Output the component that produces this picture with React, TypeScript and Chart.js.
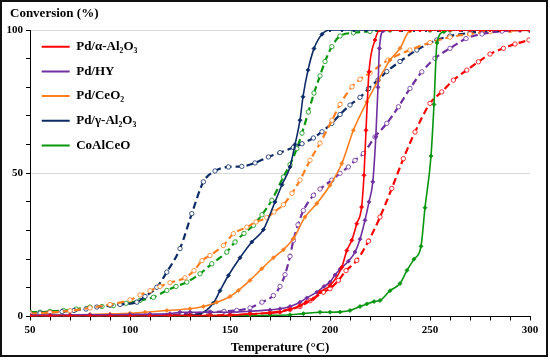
import { useEffect, useRef } from 'react';
import { Chart, registerables } from 'chart.js';
Chart.register(...registerables);

const FONT = '"Liberation Serif", "Times New Roman", serif';

const legendLabels = ['Pd/α-Al₂O₃', 'Pd/HY', 'Pd/CeO₂', 'Pd/γ-Al₂O₃', 'CoAlCeO'];
const seriesColors = ['#FF0000', '#7030A0', '#FF7F1E', '#0C2B67', '#08960F'];
const yAxisCaption = 'Conversion (%)';
const xAxisCaption = 'Temperature (°C)';

// Pd/α-Al2O3
const alphaSolidT = [50, 60, 70, 80, 90, 100, 110, 120, 130, 140, 150, 160, 170, 175, 180, 185, 188, 191.7, 195, 200, 205.9, 208.4, 210.9, 213.4, 215.8, 217, 218, 219.5, 222.5, 225, 230, 235, 240, 245, 250, 255, 260, 265, 270, 275, 280, 285, 290, 295, 300];
const alphaSolidC = [0.2, 0.2, 0.2, 0.2, 0.2, 0.2, 0.2, 0.3, 0.3, 0.3, 0.4, 0.9, 1.2, 1.5, 2.5, 3.8, 5.0, 6.2, 8.5, 10.8, 17.2, 23, 26.6, 32.4, 38.2, 49.3, 65, 85.4, 96.5, 100, 100, 100, 100, 100, 100, 100, 100, 100, 100, 100, 100, 100, 100, 100, 100];
const alphaDashedT = [50, 60, 70, 80, 90, 100, 110, 120, 130, 140, 150, 160, 170, 180, 185, 190, 196.7, 200, 204.2, 208, 213.4, 219.2, 225, 230.9, 236.7, 242.5, 250, 255.9, 261.7, 268.4, 274.2, 280, 286.7, 292.5, 299.5];
const alphaDashedC = [0.2, 0.2, 0.2, 0.2, 0.2, 0.3, 0.3, 0.3, 0.4, 0.4, 0.5, 0.8, 1.3, 2.5, 3.5, 5.5, 8.5, 9.7, 12.6, 16, 19.6, 26.3, 34.7, 44.7, 55.1, 64.4, 74.4, 78.4, 82.5, 86, 88.9, 91.6, 93.6, 95.1, 96.5];

// Pd/HY
const hySolidT = [50, 60, 70, 80, 90, 100, 110, 120, 125, 130, 140, 150, 160, 170, 175, 180, 185, 188.4, 193.4, 197, 200, 202.5, 205, 209.2, 212.5, 215, 217.5, 219.5, 221.4, 222.9, 224, 224.7, 226.7, 230, 235, 240, 245, 250, 255, 260, 265, 270, 275, 280, 285, 290, 295, 300];
const hySolidC = [0.5, 0.5, 0.5, 0.6, 0.6, 0.7, 0.8, 1.0, 1.5, 1.5, 1.5, 1.5, 1.8, 2.3, 2.7, 3.5, 5.0, 6.5, 8.5, 10.5, 12, 14.5, 16.5, 19.3, 22.5, 27, 33.6, 40, 47, 62.7, 80, 93.6, 99.7, 100, 100, 100, 100, 100, 100, 100, 100, 100, 100, 100, 100, 100, 100, 100];
const hyDashedT = [50, 60, 70, 80, 90, 100, 110, 120, 130, 140, 147, 153.4, 160, 166, 171.7, 175, 177.5, 180, 181.7, 184, 186.7, 191.7, 195, 200.9, 205, 209.2, 212.5, 216.7, 222.5, 228.4, 234.2, 240, 245.9, 252.5, 260, 268, 276, 286, 295, 300];
const hyDashedC = [0.2, 0.2, 0.2, 0.2, 0.3, 0.3, 0.4, 0.5, 1.0, 1.5, 1.8, 2.1, 3.0, 5.0, 7.3, 10.5, 14.6, 21, 26.6, 32, 37, 42.3, 44.5, 47.6, 50, 52.2, 54.5, 56.9, 62.7, 67.4, 73.2, 79.6, 85.4, 90.1, 93.6, 97, 98.6, 99.6, 100, 100];

// Pd/CeO2
const ceSolidT = [50, 60, 70, 80, 90, 100, 107.5, 118.4, 130, 136.7, 143.4, 150, 154.2, 160, 165.9, 171.7, 176.7, 181.7, 187.5, 193.4, 200, 205.9, 211.7, 218.4, 224.2, 230, 235, 240, 245, 250, 255, 260, 265, 270, 275, 280, 285, 290, 295, 300];
const ceSolidC = [0.5, 0.5, 0.6, 0.7, 0.9, 1.1, 1.5, 2.1, 2.7, 3.5, 5.0, 7.0, 9.1, 12.6, 16.7, 20.5, 23.3, 27.2, 34.7, 39.4, 45.8, 53.4, 65, 74.9, 82.5, 89.5, 93.6, 99.7, 100, 100, 100, 100, 100, 100, 100, 100, 100, 100, 100, 100];
const ceDashedT = [50, 60, 70, 80, 90, 100, 105, 110, 115, 120, 127.5, 132, 136, 140, 146.7, 151.7, 158.4, 163, 168.4, 172, 176.7, 181, 185, 190, 195, 201, 205, 211, 215, 220, 229, 240, 250, 260, 270, 280, 290, 300];
const ceDashedC = [1.0, 1.4, 2.0, 3.0, 4.2, 5.8, 7.5, 9.0, 10.5, 11.8, 13.5, 16, 19.5, 21.3, 24.8, 28.9, 31.2, 33, 34.5, 36.5, 39, 43, 47.6, 54.5, 60.5, 68.5, 74, 80.2, 82.8, 85, 89.5, 93, 95.6, 97.5, 98.6, 99.4, 99.8, 100];

// Pd/γ-Al2O3
const gammaSolidT = [50, 60, 70, 80, 90, 100, 110, 120, 130, 135, 141.7, 145, 149.2, 155, 160.9, 166.7, 172.5, 176, 180, 182.5, 185, 186.5, 189, 192, 196, 200, 206, 212, 218, 224, 230, 236, 242, 248, 254, 260, 266, 272, 278, 284, 290, 295, 300];
const gammaSolidC = [0.2, 0.2, 0.2, 0.2, 0.2, 0.2, 0.2, 0.3, 0.5, 0.9, 4.7, 9, 14.3, 20.5, 26, 30.3, 40, 46, 52.2, 60, 68.5, 76.7, 86, 93.5, 98.5, 100, 100, 100, 100, 100, 100, 100, 100, 100, 100, 100, 100, 100, 100, 100, 100, 100, 100];
const gammaDashedT = [50, 55, 60, 66, 72, 78, 83.4, 90, 95, 103.4, 107.5, 113.4, 118.4, 125, 130.9, 136.7, 142.5, 149.2, 155.9, 162.5, 169.2, 175, 181.7, 186, 191.7, 196, 200.9, 205, 210, 215, 219.2, 224, 228.4, 235, 243.4, 253.4, 260, 270, 280, 290, 300];
const gammaDashedC = [1.0, 1.2, 1.4, 1.7, 2.1, 2.6, 3.3, 3.9, 4.2, 5.0, 7.0, 10.2, 15.5, 23.7, 35.9, 47, 50.8, 52.2, 52.4, 53.6, 55.7, 57.2, 59.0, 60.3, 62.3, 64.5, 67.4, 70.5, 73.8, 76.5, 79.5, 82.5, 85.5, 89, 93, 96.5, 97.9, 99, 99.7, 100, 100];

// CoAlCeO
const coSolidT = [50, 60, 70, 80, 90, 100, 110, 120, 130, 140, 150, 160, 170, 180, 186.7, 195, 200, 205, 210, 215, 218.4, 222, 225, 230, 235, 238.5, 242, 245.5, 247.5, 250.5, 252, 253.5, 257, 260, 265, 270, 275, 280, 285, 290, 295, 300];
const coSolidC = [0.2, 0.2, 0.2, 0.2, 0.2, 0.2, 0.2, 0.2, 0.2, 0.3, 0.3, 0.3, 0.4, 0.6, 1.0, 1.5, 1.5, 1.6, 2.1, 3.5, 4.4, 5.2, 5.6, 9.0, 11.5, 16.1, 20, 24.5, 38, 56, 74, 95.5, 99.4, 100, 100, 100, 100, 100, 100, 100, 100, 100];
const coDashedT = [50, 55, 60, 66.7, 73, 80, 86, 91.7, 98, 105, 111.7, 118.4, 123, 128.4, 135, 140.9, 148.4, 152.5, 157, 161.7, 166, 170.9, 176.7, 180, 183.4, 186, 189.2, 192, 195, 197.5, 200.9, 205, 211.7, 220, 230, 240, 250, 260, 270, 280, 290, 300];
const coDashedC = [1.5, 1.5, 1.8, 2.1, 2.6, 3.3, 3.5, 3.8, 4.6, 5.6, 6.7, 9.1, 10.5, 12.0, 14.9, 18.4, 22.5, 26.0, 29, 31.8, 35.5, 40.6, 48.7, 53, 58.6, 64, 71.4, 78, 84, 89, 94.2, 97.9, 99, 99.5, 100, 100, 100, 100, 100, 100, 100, 100];

const solidSeries = [
  [alphaSolidT, alphaSolidC],
  [hySolidT, hySolidC],
  [ceSolidT, ceSolidC],
  [gammaSolidT, gammaSolidC],
  [coSolidT, coSolidC],
];
const dashedSeries = [
  [alphaDashedT, alphaDashedC],
  [hyDashedT, hyDashedC],
  [ceDashedT, ceDashedC],
  [gammaDashedT, gammaDashedC],
  [coDashedT, coDashedC],
];

const xTickLabelsEvery = 50;
const yTickLabelsEvery = 50;

function zip(xs: number[], ys: number[]) {
  return xs.map((x, i) => ({ x, y: ys[i] }));
}

const captionPlugin = {
  id: 'yCaption',
  afterDraw(chart: any) {
    const ctx = chart.ctx;
    ctx.save();
    ctx.font = `bold 13px ${FONT}`;
    ctx.fillStyle = '#000';
    ctx.textAlign = 'left';
    ctx.textBaseline = 'middle';
    ctx.fillText(yAxisCaption, 10, 14);
    ctx.restore();
  },
};

export default function App() {
  const ref = useRef<HTMLCanvasElement | null>(null);

  useEffect(() => {
    if (!ref.current) return;
    const datasets: any[] = [];
    solidSeries.forEach(([t, c], i) => {
      datasets.push({
        label: legendLabels[i],
        data: zip(t, c),
        borderColor: seriesColors[i],
        backgroundColor: seriesColors[i],
        borderWidth: 1.6,
        pointStyle: 'rectRot',
        pointRadius: 2,
        pointBackgroundColor: seriesColors[i],
        pointBorderColor: seriesColors[i],
        pointBorderWidth: 0.8,
        cubicInterpolationMode: 'monotone',
        fill: false,
      });
    });
    dashedSeries.forEach(([t, c], i) => {
      datasets.push({
        label: legendLabels[i] + ' ',
        data: zip(t, c),
        borderColor: seriesColors[i],
        backgroundColor: '#ffffff',
        borderWidth: 2.2,
        borderDash: [7, 4],
        pointStyle: 'circle',
        pointRadius: 2.2,
        pointBackgroundColor: '#ffffff',
        pointBorderColor: seriesColors[i],
        pointBorderWidth: 0.8,
        cubicInterpolationMode: 'monotone',
        fill: false,
      });
    });

    const chart = new Chart(ref.current, {
      type: 'line',
      data: { datasets },
      plugins: [captionPlugin],
      options: {
        responsive: false,
        animation: false,
        layout: { padding: { left: 0, right: 20, top: 30, bottom: 0 } },
        plugins: {
          title: { display: false },
          legend: {
            position: 'chartArea',
            align: 'start',
            title: {
              display: true,
              text: ' ',
              font: { family: FONT, size: 10 },
              padding: { top: 16.5, bottom: 0 },
            },
            labels: {
              boxWidth: 28,
              boxHeight: 2,
              padding: 11.7,
              color: '#000',
              font: { family: FONT, size: 13, weight: 'bold' },
              generateLabels: () =>
                legendLabels.map((text, i) => ({
                  text,
                  fillStyle: seriesColors[i],
                  strokeStyle: seriesColors[i],
                  lineWidth: 0,
                  hidden: false,
                  datasetIndex: i,
                  fontColor: '#000',
                })),
            },
          },
          tooltip: { enabled: false },
        },
        scales: {
          x: {
            type: 'linear',
            min: 50,
            max: 300,
            afterFit: (s: any) => {
              s.height = 45.5;
            },
            ticks: {
              stepSize: 10,
              autoSkip: false,
              maxRotation: 0,
              padding: 3,
              color: '#000',
              font: { family: FONT, size: 11, weight: 'bold' },
              callback: (v: any) => (Number(v) % xTickLabelsEvery === 0 ? String(v) : ''),
            },
            grid: { drawOnChartArea: false, tickLength: 4, tickColor: '#000' },
            border: { color: '#000', width: 1 },
            title: {
              display: true,
              text: xAxisCaption,
              color: '#000',
              font: { family: FONT, size: 13, weight: 'bold' },
              padding: { top: 0, bottom: 7 },
            },
          },
          y: {
            type: 'linear',
            min: 0,
            max: 100,
            afterFit: (s: any) => {
              s.width = 30;
            },
            ticks: {
              stepSize: 10,
              autoSkip: false,
              padding: 3,
              color: '#000',
              font: { family: FONT, size: 11, weight: 'bold' },
              callback: (v: any) => (Number(v) % yTickLabelsEvery === 0 ? String(v) : ''),
            },
            grid: {
              color: (ctx: any) =>
                ctx.tick && (ctx.tick.value === 50 || ctx.tick.value === 100) ? '#D9D9D9' : 'rgba(0,0,0,0)',
              tickLength: 4,
              tickColor: '#000',
            },
            border: { color: '#000', width: 1 },
          },
        },
      } as any,
    });
    return () => chart.destroy();
  }, []);

  return (
    <div style={{ position: 'fixed', left: 0, top: 0, width: 550, height: 362, background: '#fff' }}>
      <canvas ref={ref} width={550} height={362} style={{ display: 'block' }} />
      <div
        style={{
          position: 'absolute',
          left: 0,
          top: 0,
          width: 548,
          height: 357,
          border: '2px solid #111',
          boxSizing: 'border-box',
          pointerEvents: 'none',
        }}
      />
    </div>
  );
}
